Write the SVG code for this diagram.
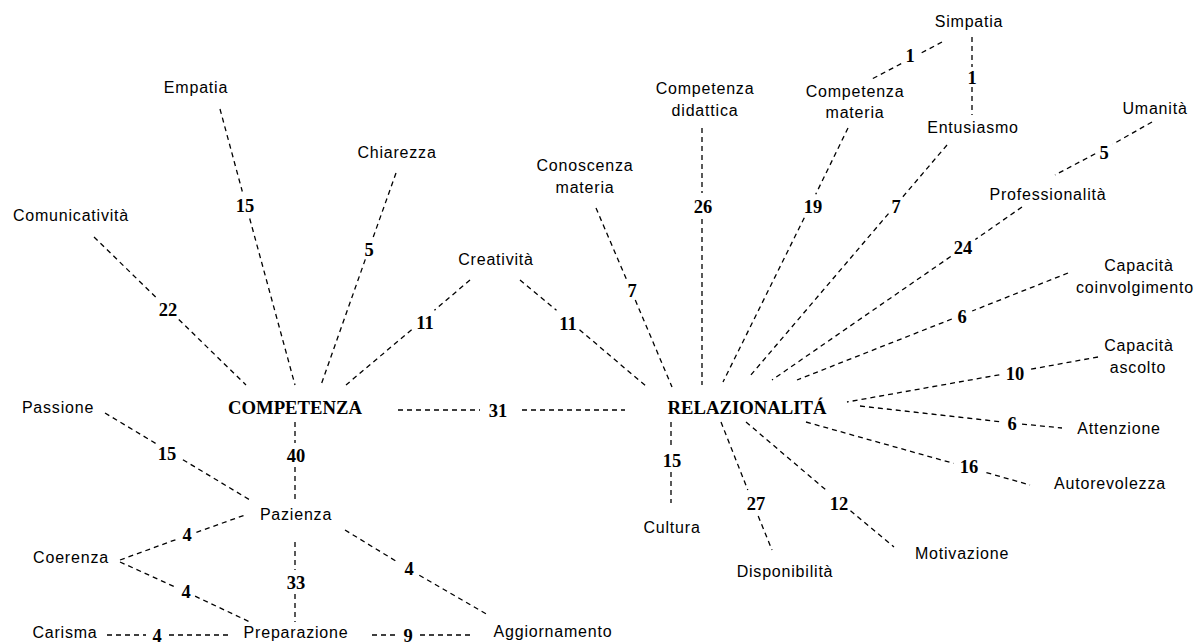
<svg xmlns="http://www.w3.org/2000/svg" width="1199" height="644" viewBox="0 0 1199 644">
<style>
.lbl{font-family:"Liberation Sans",Arial,sans-serif;font-size:16px;letter-spacing:0.8px;fill:#000;text-anchor:middle}
.num{font-family:"Liberation Serif","Times New Roman",serif;font-size:18.5px;font-weight:bold;fill:#000;text-anchor:middle}
.hub{font-family:"Liberation Serif","Times New Roman",serif;font-size:18.7px;font-weight:bold;fill:#000;text-anchor:middle}
.c line{stroke:#000;stroke-width:1.3;stroke-dasharray:5,4;fill:none}
</style>
<rect width="1199" height="644" fill="#fff"/>
<g id="connectors" class="c">
<!-- COMPETENZA side -->
<line x1="220" y1="109" x2="242.3" y2="191.5"/><line x1="249.7" y1="218.5" x2="295" y2="385"/>
<line x1="396" y1="173" x2="372.7" y2="238.6"/><line x1="365.3" y1="259.4" x2="321" y2="385"/>
<line x1="94" y1="237" x2="157.2" y2="298.5"/><line x1="178.8" y1="319.5" x2="246" y2="385"/>
<line x1="470" y1="280" x2="434.4" y2="310.3"/><line x1="411.6" y1="329.7" x2="346" y2="385"/>
<line x1="520" y1="280" x2="556.5" y2="310.3"/><line x1="579.5" y1="329.7" x2="647" y2="387"/>
<line x1="398" y1="410" x2="480" y2="410"/><line x1="522" y1="410" x2="625" y2="410"/>
<line x1="105" y1="413" x2="157.1" y2="444.3"/><line x1="182.9" y1="459.7" x2="250" y2="500"/>
<line x1="295" y1="422" x2="295" y2="443"/><line x1="295" y1="467" x2="295" y2="500"/>
<line x1="120" y1="560" x2="175.6" y2="539.7"/><line x1="196.4" y1="532.3" x2="245" y2="515"/>
<line x1="120" y1="562" x2="176.9" y2="587.8"/><line x1="195.1" y1="596.2" x2="250" y2="622"/>
<line x1="295" y1="542" x2="295" y2="570"/><line x1="295" y1="594" x2="295" y2="622"/>
<line x1="345" y1="530" x2="398.7" y2="562.8"/><line x1="419.3" y1="575.2" x2="488" y2="615"/>
<line x1="107" y1="635" x2="146" y2="635"/><line x1="169" y1="635" x2="229" y2="635"/>
<line x1="372" y1="635" x2="396" y2="635"/><line x1="420" y1="635" x2="472" y2="635"/>
<!-- RELAZIONALITA side -->
<line x1="596" y1="208" x2="626.7" y2="279.9"/><line x1="635.3" y1="300.1" x2="672" y2="387"/>
<line x1="702" y1="128" x2="702" y2="193"/><line x1="702" y1="219" x2="702" y2="385"/>
<line x1="848" y1="128" x2="815.7" y2="194.3"/><line x1="804.3" y1="217.7" x2="723" y2="382"/>
<line x1="942" y1="42" x2="918.8" y2="54.3"/><line x1="901.2" y1="63.7" x2="870" y2="80"/>
<line x1="972" y1="37" x2="972" y2="67"/><line x1="972" y1="87" x2="972" y2="115"/>
<line x1="947" y1="145" x2="901.5" y2="198.4"/><line x1="888.5" y1="213.6" x2="750" y2="376"/>
<line x1="1152" y1="122" x2="1112.8" y2="144.2"/><line x1="1095.2" y1="153.8" x2="1055" y2="175"/>
<line x1="1022" y1="207" x2="975.3" y2="239.5"/><line x1="950.7" y1="256.5" x2="772" y2="380"/>
<line x1="1068" y1="273" x2="972.2" y2="311"/><line x1="951.8" y1="319" x2="797" y2="380"/>
<line x1="1098" y1="357" x2="1030.7" y2="369.2"/><line x1="999.3" y1="374.8" x2="847" y2="402"/>
<line x1="860" y1="406" x2="1002" y2="421.9"/><line x1="1022" y1="424.1" x2="1062" y2="428"/>
<line x1="806" y1="422" x2="953.6" y2="463.4"/><line x1="986.4" y1="472.6" x2="1030" y2="485"/>
<line x1="671" y1="422" x2="671" y2="448"/><line x1="671" y1="472" x2="671" y2="503"/>
<line x1="721" y1="422" x2="747.8" y2="490"/><line x1="758.2" y1="516" x2="772" y2="550"/>
<line x1="746" y1="422" x2="827.5" y2="491.3"/><line x1="850.5" y1="510.7" x2="894" y2="547"/>
</g>
<g id="edge-labels">
<text class="num" x="245" y="211.5">15</text>
<text class="num" x="369" y="255.5">5</text>
<text class="num" x="168" y="315.5">22</text>
<text class="num" x="425" y="328.5">11</text>
<text class="num" x="568" y="329.5">11</text>
<text class="num" x="498" y="416.5">31</text>
<text class="num" x="167" y="459.5">15</text>
<text class="num" x="296" y="461.5">40</text>
<text class="num" x="187" y="540.5">4</text>
<text class="num" x="186" y="597.5">4</text>
<text class="num" x="296" y="588.5">33</text>
<text class="num" x="409" y="574.5">4</text>
<text class="num" x="157" y="641.5">4</text>
<text class="num" x="408" y="641.5">9</text>
<text class="num" x="632" y="296.5">7</text>
<text class="num" x="703" y="212.5">26</text>
<text class="num" x="813" y="212.5">19</text>
<text class="num" x="910" y="61.5">1</text>
<text class="num" x="972" y="83.5">1</text>
<text class="num" x="896" y="212.5">7</text>
<text class="num" x="1104" y="158.5">5</text>
<text class="num" x="963" y="253.5">24</text>
<text class="num" x="962" y="322.5">6</text>
<text class="num" x="1015" y="379.5">10</text>
<text class="num" x="1012" y="429.5">6</text>
<text class="num" x="969" y="472.5">16</text>
<text class="num" x="672" y="466.5">15</text>
<text class="num" x="756" y="509.5">27</text>
<text class="num" x="839" y="509.5">12</text>
</g>
<g id="node-competenza"><text class="hub" x="295" y="414">COMPETENZA</text></g>
<g id="node-relazionalita"><text class="hub" x="747" y="414">RELAZIONALITÁ</text></g>
<g id="node-empatia"><text class="lbl" x="196" y="93">Empatia</text></g>
<g id="node-chiarezza"><text class="lbl" x="397" y="158">Chiarezza</text></g>
<g id="node-comunicativita"><text class="lbl" x="71" y="221">Comunicatività</text></g>
<g id="node-creativita"><text class="lbl" x="496" y="265">Creatività</text></g>
<g id="node-passione"><text class="lbl" x="58" y="413">Passione</text></g>
<g id="node-pazienza"><text class="lbl" x="296" y="520">Pazienza</text></g>
<g id="node-coerenza"><text class="lbl" x="71" y="563">Coerenza</text></g>
<g id="node-carisma"><text class="lbl" x="65" y="638">Carisma</text></g>
<g id="node-preparazione"><text class="lbl" x="296" y="638">Preparazione</text></g>
<g id="node-aggiornamento"><text class="lbl" x="553" y="637">Aggiornamento</text></g>
<g id="node-conoscenza"><text class="lbl" x="585" y="171">Conoscenza</text><text class="lbl" x="585" y="193">materia</text></g>
<g id="node-competenza-didattica"><text class="lbl" x="705" y="94">Competenza</text><text class="lbl" x="705" y="116">didattica</text></g>
<g id="node-competenza-materia"><text class="lbl" x="855" y="97">Competenza</text><text class="lbl" x="855" y="118">materia</text></g>
<g id="node-simpatia"><text class="lbl" x="969" y="27">Simpatia</text></g>
<g id="node-entusiasmo"><text class="lbl" x="973" y="133">Entusiasmo</text></g>
<g id="node-umanita"><text class="lbl" x="1155" y="114">Umanità</text></g>
<g id="node-professionalita"><text class="lbl" x="1048" y="200">Professionalità</text></g>
<g id="node-coinvolgimento"><text class="lbl" x="1139" y="271">Capacità</text><text class="lbl" x="1135" y="293">coinvolgimento</text></g>
<g id="node-ascolto"><text class="lbl" x="1139" y="351">Capacità</text><text class="lbl" x="1138" y="373">ascolto</text></g>
<g id="node-attenzione"><text class="lbl" x="1119" y="434">Attenzione</text></g>
<g id="node-autorevolezza"><text class="lbl" x="1110" y="489">Autorevolezza</text></g>
<g id="node-cultura"><text class="lbl" x="672" y="533">Cultura</text></g>
<g id="node-disponibilita"><text class="lbl" x="785" y="577">Disponibilità</text></g>
<g id="node-motivazione"><text class="lbl" x="962" y="559">Motivazione</text></g>
</svg>
